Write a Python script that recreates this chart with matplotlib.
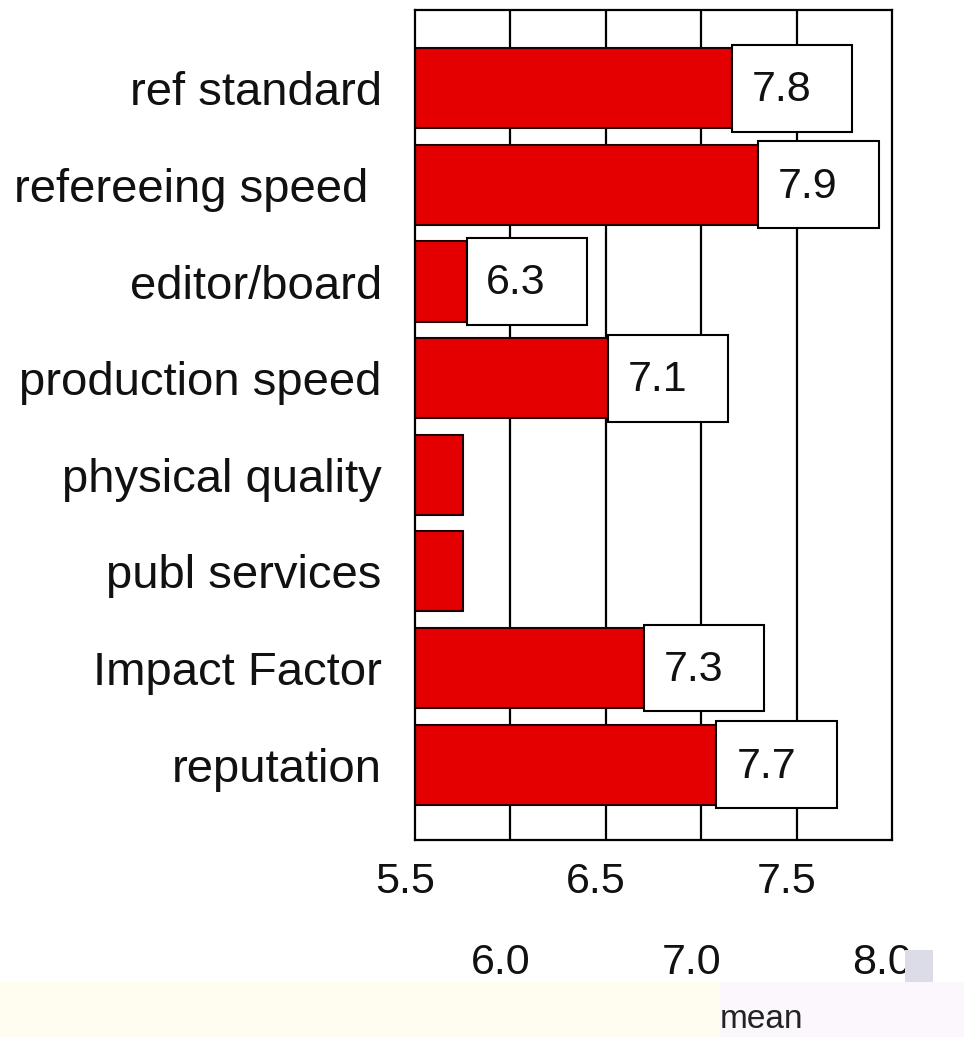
import matplotlib
matplotlib.use("Agg")
import matplotlib.pyplot as plt
from matplotlib.patches import Rectangle
from matplotlib.transforms import ScaledTranslation

plt.rcParams['font.family'] = ['Liberation Sans', 'DejaVu Sans']

# ---- data ----
categories = ["ref standard", "refereeing speed ", "editor/board", "production speed",
              "physical quality", "publ services", "Impact Factor", "reputation"]
bar_ends = [7.16, 7.30, 5.77, 6.51, 5.75, 5.75, 6.70, 7.08]
value_labels = ["7.8", "7.9", "6.3", "7.1", None, None, "7.3", "7.7"]
axis_min = 5.5
major_ticks = [5.5, 6.5, 7.5]
minor_ticks = [6.0, 7.0, 8.0]
major_labels = ["5.5", "6.5", "7.5"]
minor_labels = ["6.0", "7.0", "8.0"]
axis_title = "mean"

W, H = 964, 1037
fig = plt.figure(figsize=(W / 100, H / 100), dpi=100)
fig.patch.set_facecolor('white')

# bottom pale strip
fig.patches.append(Rectangle((0, 0), 720 / W, 55 / H, transform=fig.transFigure,
                             facecolor='#fffdf0', edgecolor='none', zorder=0))
fig.patches.append(Rectangle((720 / W, 0), 1 - 720 / W, 55 / H, transform=fig.transFigure,
                             facecolor='#fcf7fd', edgecolor='none', zorder=0))

left, right, top, bottom = 415, 892, 10, 840
ax = fig.add_axes([left / W, 1 - bottom / H, (right - left) / W, (bottom - top) / H])

ypos = list(range(len(categories)))
ax.set_xlim(5.5, 8.0)
ax.set_ylim(7.78, -0.81)

# grid lines
for g in [6.0, 6.5, 7.0, 7.5]:
    ax.axvline(g, color='black', lw=1.6, zorder=0)

widths = [v - axis_min for v in bar_ends]
ax.barh(ypos, widths, left=axis_min, height=0.83, color='#e40000',
        edgecolor='#200000', lw=1.5, zorder=2)

box_w = 0.63
box_h = 0.90
for y, v, lab in zip(ypos, bar_ends, value_labels):
    if lab is None:
        continue
    ax.add_patch(Rectangle((v, y - box_h / 2), box_w, box_h, facecolor='white',
                           edgecolor='black', lw=1.5, zorder=3))
    ax.text(v + 0.26, y + 0.02, lab, ha='center', va='center', fontsize=31,
            color='#111111', zorder=4)

for s in ax.spines.values():
    s.set_linewidth(1.6)
    s.set_color('black')

ax.set_yticks(ypos)
ax.set_yticklabels(categories, fontsize=34, color='#111111')
ax.tick_params(axis='y', length=0, pad=24)

ax.set_xticks(major_ticks)
ax.set_xticklabels(major_labels, fontsize=31, color='#111111')
ax.set_xticks(minor_ticks, minor=True)
ax.set_xticklabels(minor_labels, minor=True, fontsize=31, color='#111111')
ax.tick_params(axis='x', which='major', length=0, pad=16)
ax.tick_params(axis='x', which='minor', length=0, pad=74)

shift = ScaledTranslation(-10 / 100, 0, fig.dpi_scale_trans)
for lbl in ax.get_xticklabels(which='both'):
    lbl.set_transform(lbl.get_transform() + shift)

# grey smudge over the last label
fig.patches.append(Rectangle((905 / W, 1 - 982 / H), 28 / W, 32 / H, transform=fig.transFigure,
                             facecolor='#dcdce8', edgecolor='none', zorder=5))

fig.text(761 / W, 1 - 1019 / H, axis_title, ha='center', va='center', fontsize=24,
         color='#222222')

fig.savefig("out.png", dpi=100)
